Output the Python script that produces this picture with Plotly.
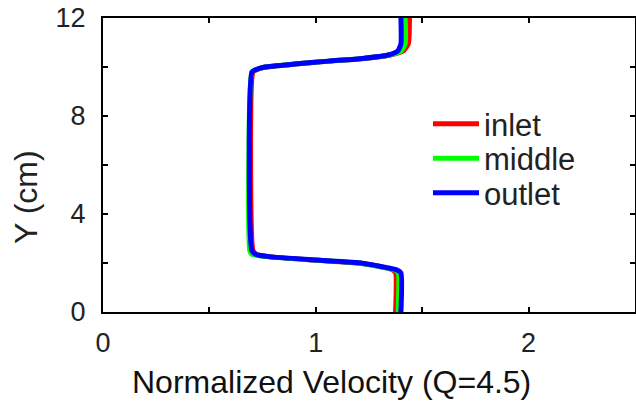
import plotly.graph_objects as go

# Data
y_cm = [0, 1.6, 1.72, 1.8, 1.99, 2.12, 2.26, 2.35, 2.5, 9.8, 9.9, 10.0, 10.12,
        10.24, 10.35, 10.49, 10.65, 10.95, 12]
inlet = [1.375, 1.375, 1.36, 1.33, 1.21, 0.99, 0.78, 0.72, 0.705, 0.705, 0.725,
         0.765, 0.905, 1.065, 1.225, 1.35, 1.41, 1.435, 1.44]
middle = [1.387, 1.387, 1.37, 1.33, 1.21, 0.99, 0.77, 0.70, 0.69, 0.70, 0.72,
          0.76, 0.90, 1.06, 1.22, 1.345, 1.40, 1.42, 1.42]
outlet = [1.40, 1.40, 1.38, 1.34, 1.22, 1.00, 0.78, 0.72, 0.70, 0.70, 0.72,
          0.76, 0.90, 1.06, 1.22, 1.34, 1.385, 1.40, 1.40]

series_names = ["inlet", "middle", "outlet"]
series_colors = ["#ff0000", "#00ff00", "#0000ff"]

x_tickvals = [0, 0.5, 1, 1.5, 2, 2.5]
x_ticktext = ["0", "", "1", "", "2", ""]
y_tickvals = [0, 2, 4, 6, 8, 10, 12]
y_ticktext = ["0", "", "4", "", "8", "", "12"]

FONT = "Liberation Sans, Arial, Helvetica, sans-serif"

W, H = 636, 402
ml, mr, mt, mb = 103, 1, 18, 90
pw, ph = W - ml - mr, H - mt - mb

def px(xp):
    return (xp - ml) / pw

def py(yp):
    return (H - mb - yp) / ph

legend_ids = ["legend", "legend2", "legend3"]
legend_rows = [124, 158.5, 193]

fig = go.Figure()
for name, color, xs, lid in zip(series_names, series_colors,
                                [inlet, middle, outlet], legend_ids):
    fig.add_trace(go.Scatter(x=xs, y=y_cm, mode="lines", name=name,
                             legend=lid,
                             line=dict(color=color, width=5, shape="spline",
                                       smoothing=0.5)))

legend_common = dict(xanchor="left", yanchor="middle",
                     bgcolor="rgba(0,0,0,0)", borderwidth=0,
                     font=dict(size=31, family=FONT, color="#222222"),
                     itemwidth=46, tracegroupgap=0)

layout_legends = {}
for lid, row in zip(legend_ids, legend_rows):
    layout_legends[lid] = dict(x=px(428), y=py(row), **legend_common)

fig.update_layout(
    width=W, height=H,
    margin=dict(l=ml, r=mr, t=mt, b=mb, pad=0, autoexpand=False),
    paper_bgcolor="white", plot_bgcolor="white",
    font=dict(family=FONT, color="#222222"),
    showlegend=True,
    xaxis=dict(range=[0, 2.5], tickvals=x_tickvals, ticktext=x_ticktext,
               ticks="inside", ticklen=5, tickwidth=1.5, tickcolor="black",
               showline=True, linecolor="black", linewidth=2, mirror="allticks",
               showgrid=False, zeroline=False,
               tickfont=dict(size=27, family=FONT, color="#222222"),
               ticklabelstandoff=6),
    yaxis=dict(range=[0, 12], tickvals=y_tickvals, ticktext=y_ticktext,
               ticks="inside", ticklen=5, tickwidth=1.5, tickcolor="black",
               showline=True, linecolor="black", linewidth=2, mirror="allticks",
               showgrid=False, zeroline=False,
               tickfont=dict(size=27, family=FONT, color="#222222"),
               ticklabelstandoff=10),
    annotations=[
        dict(text="Normalized Velocity (Q=4.5)", xref="paper", yref="paper",
             x=px(331), y=py(382), xanchor="center", yanchor="middle",
             showarrow=False, font=dict(size=32, family=FONT, color="#111111")),
        dict(text="Y (cm)", xref="paper", yref="paper", textangle=-90,
             x=px(26), y=py(197), xanchor="center", yanchor="middle",
             showarrow=False, font=dict(size=32, family=FONT, color="#222222")),
    ],
    **layout_legends,
)

fig.write_html("out.html",
               config={"displayModeBar": False},
               post_script="document.body.style.margin='0';document.body.style.overflow='hidden';")
